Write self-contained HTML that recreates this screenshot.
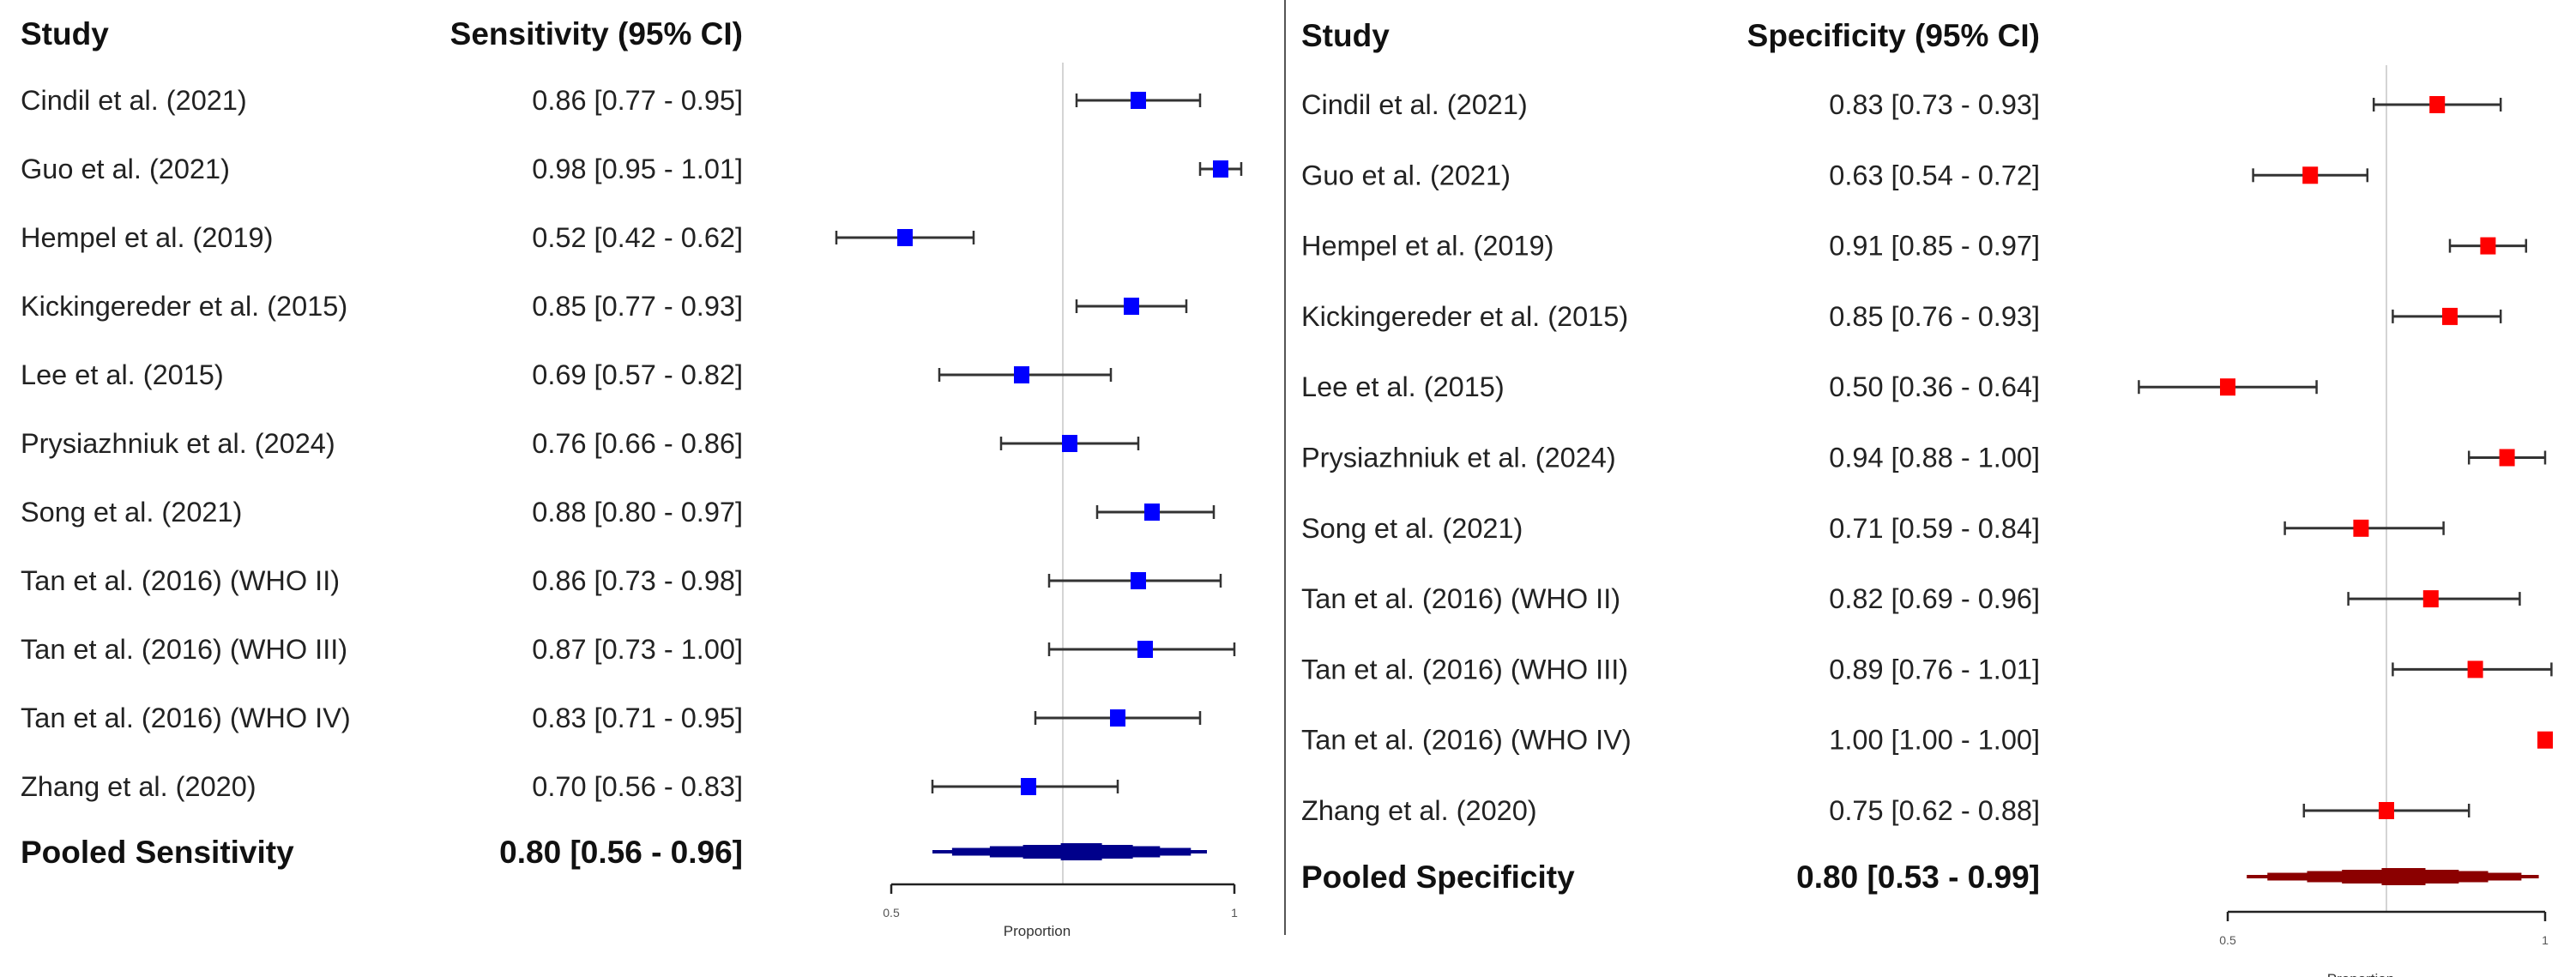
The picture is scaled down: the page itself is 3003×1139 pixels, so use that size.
<!DOCTYPE html>
<html><head><meta charset="utf-8"><style>
html,body{margin:0;padding:0;background:#fff;}
body{width:3003px;height:1139px;overflow:hidden;position:relative;font-family:"Liberation Sans",Arial,sans-serif;}
svg{position:absolute;left:0;top:0;}
</style></head><body>
<svg id="chart" width="3003" height="1139" viewBox="0 0 3003 1139" xmlns="http://www.w3.org/2000/svg"></svg>
<script>
const studiesSens = ["Cindil et al. (2021)","Guo et al. (2021)","Hempel et al. (2019)","Kickingereder et al. (2015)","Lee et al. (2015)","Prysiazhniuk et al. (2024)","Song et al. (2021)","Tan et al. (2016) (WHO II)","Tan et al. (2016) (WHO III)","Tan et al. (2016) (WHO IV)","Zhang et al. (2020)"];
const sensEst = [0.86,0.98,0.52,0.85,0.69,0.76,0.88,0.86,0.87,0.83,0.70];
const sensLo  = [0.77,0.95,0.42,0.77,0.57,0.66,0.80,0.73,0.73,0.71,0.56];
const sensHi  = [0.95,1.01,0.62,0.93,0.82,0.86,0.97,0.98,1.00,0.95,0.83];
const sensPooled = [0.80,0.56,0.96];
const specEst = [0.83,0.63,0.91,0.85,0.50,0.94,0.71,0.82,0.89,1.00,0.75];
const specLo  = [0.73,0.54,0.85,0.76,0.36,0.88,0.59,0.69,0.76,1.00,0.62];
const specHi  = [0.93,0.72,0.97,0.93,0.64,1.00,0.84,0.96,1.01,1.00,0.88];
const specPooled = [0.80,0.53,0.99];
const tickLabels = ["0.5","1"];
const tickValues = [0.5,1];
const refValue = 0.75;

const NS="http://www.w3.org/2000/svg";
const svg=document.getElementById('chart');
function mk(tag,attrs,parent){const e=document.createElementNS(NS,tag);for(const k in attrs)e.setAttribute(k,attrs[k]);(parent||svg).appendChild(e);return e;}
function fmt(v){return v.toFixed(2);}

function panel(cfg){
  const g=mk('g',{});
  
  
  const x=v=>cfg.x0+(v-0.5)*cfg.scale;
  const y=i=>cfg.y0+i*cfg.step;
  let t=mk('text',{x:cfg.labelX,y:cfg.headY,'font-size':37,'font-weight':'bold',fill:'#111'},g);t.textContent='Study';
  
  t=mk('text',{x:cfg.valX,y:cfg.headY,'font-size':37,'font-weight':'bold',fill:'#111','text-anchor':'end'},g);t.textContent=cfg.header;
  
  let l=mk('line',{x1:x(refValue),x2:x(refValue),y1:cfg.refTop,y2:cfg.axisY,stroke:'#d4d4d4','stroke-width':2},g);
  
  cfg.est.forEach((v,i)=>{
    const cy=y(i);
    let a=mk('text',{x:cfg.labelX,y:cy+11,'font-size':32.5,fill:'#222'},g);a.textContent=cfg.studies[i];
    
    let b=mk('text',{x:cfg.valX,y:cy+11,'font-size':32.5,fill:'#222','text-anchor':'end'},g);
    b.textContent=fmt(v)+' ['+fmt(cfg.lo[i])+' - '+fmt(cfg.hi[i])+']';
    
    const x1=x(cfg.lo[i]),x2=x(cfg.hi[i]);
    if(x2-x1>1){
      let ci=mk('line',{x1:x1,x2:x2,y1:cy,y2:cy,stroke:'#333','stroke-width':3},g);
      
      [x1,x2].forEach(xx=>{let c=mk('line',{x1:xx,x2:xx,y1:cy-8,y2:cy+8,stroke:'#333','stroke-width':2.5},g);
        });
    }
    let s=mk('rect',{x:x(v)-9,y:cy-10,width:18,height:20,fill:cfg.color},g);
    
  });
  const py=cfg.pooledY;
  let pl=mk('text',{x:cfg.labelX,y:py+13,'font-size':37,'font-weight':'bold',fill:'#111'},g);pl.textContent=cfg.pooledLabel;
  
  let pv=mk('text',{x:cfg.valX,y:py+13,'font-size':37,'font-weight':'bold',fill:'#111','text-anchor':'end'},g);
  pv.textContent=fmt(cfg.pooled[0])+' ['+fmt(cfg.pooled[1])+' - '+fmt(cfg.pooled[2])+']';
  
  const fr=[1,0.87,0.62,0.4,0.15], hs=[4,9,13,16,20];
  const c0=cfg.pooled[0]-0.02;
  fr.forEach((f,k)=>{
    const a=x(c0-(c0-cfg.pooled[1])*f), b=x(c0+(cfg.pooled[2]-c0)*f);
    let r=mk('rect',{x:a,y:py-hs[k]/2,width:b-a,height:hs[k],fill:cfg.pcolor},g);
    
  });
  let ax=mk('line',{x1:x(0.5),x2:x(1),y1:cfg.axisY,y2:cfg.axisY,stroke:'#222','stroke-width':2.5},g);
  
  tickValues.forEach((v,i)=>{
    let tk=mk('line',{x1:x(v),x2:x(v),y1:cfg.axisY,y2:cfg.axisY+11,stroke:'#222','stroke-width':2.5},g);
    
    let tl=mk('text',{x:x(v),y:cfg.axisY+38,'font-size':14,fill:'#555','text-anchor':'middle'},g);tl.textContent=tickLabels[i];
    
  });
  let pr=mk('text',{x:(x(0.5)+x(1))/2-30,y:cfg.axisY+cfg.titleOff,'font-size':17,fill:'#333','text-anchor':'middle'},g);pr.textContent='Proportion';
  
}

panel({name:'sensitivity-panel',studies:studiesSens,est:sensEst,lo:sensLo,hi:sensHi,pooled:sensPooled,
  header:'Sensitivity (95% CI)',pooledLabel:'Pooled Sensitivity',color:'#0000ff',pcolor:'#00008b',
  labelX:24,valX:866,headY:52,y0:117,step:80,pooledY:993,axisY:1031,refTop:73,x0:1039,scale:800,titleOff:60});
panel({name:'specificity-panel',studies:studiesSens,est:specEst,lo:specLo,hi:specHi,pooled:specPooled,
  header:'Specificity (95% CI)',pooledLabel:'Pooled Specificity',color:'#ff0000',pcolor:'#8b0000',
  labelX:1517,valX:2378,headY:54,y0:122,step:82.3,pooledY:1022,axisY:1063,refTop:76,x0:2597,scale:740,titleOff:84});

let sep=mk('line',{x1:1498,x2:1498,y1:0,y2:1090,stroke:'#555','stroke-width':2});


</script>
</body></html>
